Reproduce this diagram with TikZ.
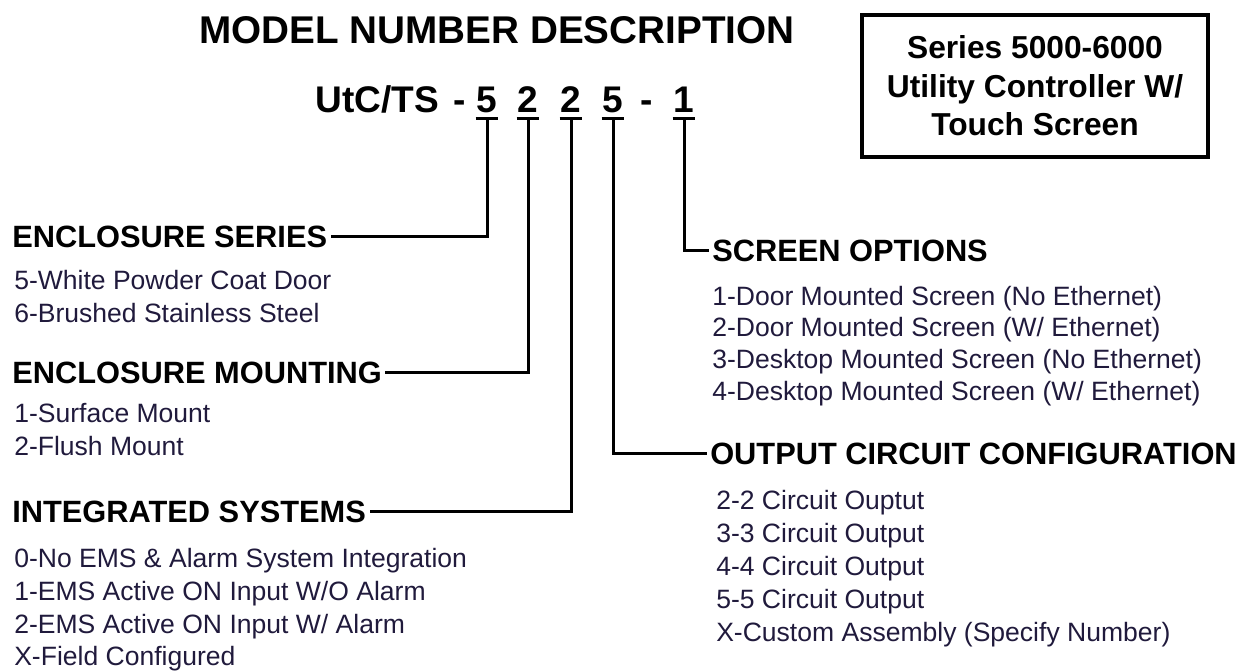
\documentclass[tikz,border=0pt]{standalone}
\usepackage{fontspec}
\setmainfont{Liberation Sans}
\definecolor{itemc}{RGB}{32,26,60}
\begin{document}
\begin{tikzpicture}[x=0.75pt,y=-0.75pt,
  hd/.style={font=\fontsize{23.1}{23.1}\selectfont\bfseries, anchor=west, inner sep=0pt, text height=16.5pt, text depth=0pt},
  it/.style={font=\fontsize{19.9}{19.9}\selectfont, text=itemc, anchor=west, inner sep=0pt, text height=14.2pt, text depth=0pt},
  mn/.style={font=\fontsize{27.8}{27.8}\selectfont\bfseries, inner sep=0pt, text height=19.5pt, text depth=0pt},
  ln/.style={line width=2.25pt},
  bar/.style={line width=2.25pt, line cap=butt}]
\useasboundingbox (0,0) rectangle (1241,671);
% title
\node[font=\fontsize{29}{29}\selectfont\bfseries, inner sep=0pt, text height=20.8pt, text depth=0pt] (title) at (497,30) {MODEL NUMBER DESCRIPTION};
% box
\node[draw, line width=3pt, minimum width=259.5pt, minimum height=106.5pt, align=center,
  font=\fontsize{23.8}{28.9}\selectfont\bfseries, inner sep=0pt] (box) at (1035,86)
  {Series 5000-6000\\Utility Controller W/\\Touch Screen};
% model number
\node[mn, anchor=west] (utc) at (315,99.5) {UtC/TS};
\node[mn] (dash1) at (460,99.5) {-};
\node[mn] (d1) at (487,99.5) {5};
\node[mn] (d2) at (528,99.5) {2};
\node[mn] (d3) at (571,99.5) {2};
\node[mn] (d4) at (613,99.5) {5};
\node[mn] (dash2) at (647,99.5) {-};
\node[mn] (d5) at (684,99.5) {1};
\foreach \i/\x in {1/487,2/528,3/571,4/613,5/684}{
  \coordinate (b\i) at (\x,118);
  \draw[bar] ([xshift=-8.6pt]b\i) -- ([xshift=8.6pt]b\i);
}
% headings
\node[hd] (es) at (12,236) {ENCLOSURE SERIES};
\node[hd] (em) at (12,372) {ENCLOSURE MOUNTING};
\node[hd] (is) at (12,511) {INTEGRATED SYSTEMS};
\node[hd] (so) at (712,250) {SCREEN OPTIONS};
\node[hd] (oc) at (710,453) {OUTPUT CIRCUIT CONFIGURATION};
% connectors
\draw[ln] (b1) |- ([xshift=2.5pt]es.east);
\draw[ln] (b2) |- ([xshift=2.5pt]em.east);
\draw[ln] (b3) |- ([xshift=2.5pt]is.east);
\draw[ln] (b4) |- ([xshift=-2.5pt]oc.west);
\draw[ln] (b5) |- ([xshift=-2.5pt]so.west);
% items
\node[it] (es1) at (14,280) {5-White Powder Coat Door};
\node[it] (es2) at (14,313) {6-Brushed Stainless Steel};
\node[it] (em1) at (14,413) {1-Surface Mount};
\node[it] (em2) at (14,446) {2-Flush Mount};
\node[it] (is1) at (14,558) {0-No EMS \& Alarm System Integration};
\node[it] (is2) at (14,591) {1-EMS Active ON Input W/O Alarm};
\node[it] (is3) at (14,624) {2-EMS Active ON Input W/ Alarm};
\node[it] (is4) at (14,656) {X-Field Configured};
\node[it] (so1) at (712,296) {1-Door Mounted Screen (No Ethernet)};
\node[it] (so2) at (712,327) {2-Door Mounted Screen (W/ Ethernet)};
\node[it] (so3) at (712,359) {3-Desktop Mounted Screen (No Ethernet)};
\node[it] (so4) at (712,391) {4-Desktop Mounted Screen (W/ Ethernet)};
\node[it] (oc1) at (716,500) {2-2 Circuit Ouptut};
\node[it] (oc2) at (716,533) {3-3 Circuit Output};
\node[it] (oc3) at (716,566) {4-4 Circuit Output};
\node[it] (oc4) at (716,599) {5-5 Circuit Output};
\node[it] (oc5) at (716,632) {X-Custom Assembly (Specify Number)};
\end{tikzpicture}
\end{document}
